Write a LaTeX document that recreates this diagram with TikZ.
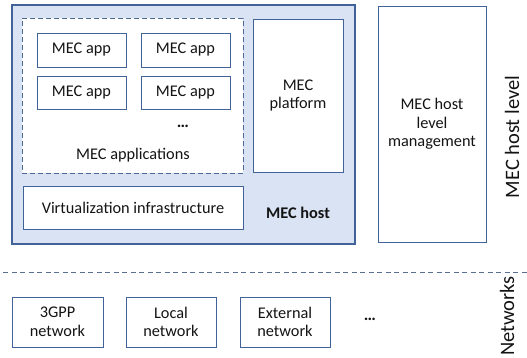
\documentclass[tikz,border=0pt]{standalone}
\usepackage{fontspec}
\setmainfont{Carlito}
\definecolor{hostfill}{HTML}{DAE3F3}
\definecolor{edge}{HTML}{41639A}
\definecolor{txt}{HTML}{141414}
\begin{document}
\begin{tikzpicture}[x=1pt,y=-1pt,
  every node/.style={text=txt,font=\fontsize{16.3}{18.7}\selectfont,inner sep=0pt},
  box/.style={draw=edge,line width=0.9pt,fill=white,align=center},
  hostbox/.style={draw=edge,line width=1.2pt,fill=hostfill},
  dashbox/.style={draw=edge!80!gray,fill=white,line width=0.9pt,dash pattern=on 5pt off 3pt},
  lbl/.style={align=center},
  sidelbl/.style={rotate=90,font=\fontsize{20.5}{24}\selectfont}]
\useasboundingbox (0,0) rectangle (527,357);
\node[hostbox,minimum width=343pt,minimum height=239pt] (host) at (183.5,124.5) {};
\node[dashbox,minimum width=221pt,minimum height=155pt] (apps) at (132.5,95.5) {};
\node[box,minimum width=89pt,minimum height=34pt] (a1) at (81.5,50) {MEC app};
\node[box,minimum width=89pt,minimum height=34pt] (a2) at (185.5,50) {MEC app};
\node[box,minimum width=89pt,minimum height=33pt] (a3) at (81.5,92.5) {MEC app};
\node[box,minimum width=89pt,minimum height=33pt] (a4) at (185.5,92.5) {MEC app};
\node[lbl,font=\fontsize{17}{20}\selectfont\bfseries] (adots) at (183,126) {\dots};
\node[lbl] (appslbl) at (133,155) {MEC applications};
\node[box,minimum width=90pt,minimum height=153pt] (plat) at (298,95.5) {MEC\\platform};
\node[box,minimum width=220pt,minimum height=43pt] (virt) at (133,207.5) {Virtualization infrastructure};
\node[lbl,font=\fontsize{16.3}{18.7}\selectfont\bfseries] (hostlbl) at (298,213) {MEC host};
\node[box,minimum width=108pt,minimum height=236pt] (mgmt) at (432,124) {MEC host\\level\\management};
\node[sidelbl] (levlbl) at (512,137) {MEC host level};
\coordinate (dl) at (3,272);
\coordinate (dr) at (527,272);
\draw[draw=edge!60!gray,line width=0.8pt,dash pattern=on 5pt off 3.5pt] (dl) -- (dr);
\node[box,minimum width=91pt,minimum height=50pt] (n1) at (57.5,322) {3GPP\\network};
\node[box,minimum width=90pt,minimum height=50pt] (n2) at (171,322) {Local\\network};
\node[box,minimum width=90pt,minimum height=50pt] (n3) at (285,322) {External\\network};
\node[lbl,font=\fontsize{17}{20}\selectfont\bfseries] (ndots) at (370,319) {\dots};
\node[sidelbl] (netlbl) at (507,316) {Networks};
\end{tikzpicture}
\end{document}
